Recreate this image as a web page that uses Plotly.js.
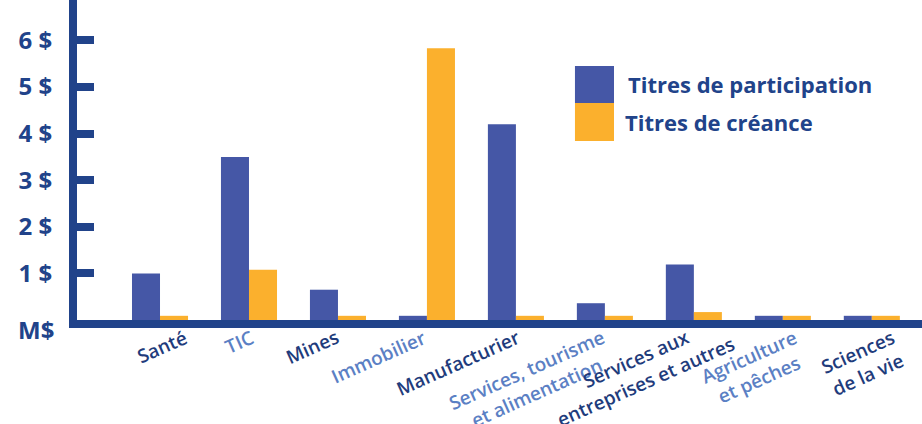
<!DOCTYPE html>
<html>
<head>
<meta charset="utf-8">
<script src="https://cdn.plot.ly/plotly-3.0.1.min.js"></script>
<style>
html,body{margin:0;padding:0;background:#fff;}
#chart{width:922px;height:424px;}
</style>
</head>
<body>
<div id="chart"></div>
<script>
// ---- data ----
const categories = ['Santé','TIC','Mines','Immobilier','Manufacturier','Services, tourisme et alimentation','Services aux entreprises et autres','Agriculture et pêches','Sciences de la vie'];
const categoryLabels = ['Santé','TIC','Mines','Immobilier','Manufacturier','Services, tourisme<br>et alimentation','Services aux<br>entreprises et autres','Agriculture<br>et pêches','Sciences<br>de la vie'];
const participation = [1.0, 3.5, 0.65, 0.09, 4.2, 0.36, 1.19, 0.09, 0.09];
const creance = [0.09, 1.08, 0.09, 5.83, 0.09, 0.09, 0.17, 0.09, 0.09];
const seriesNames = ['Titres de participation','Titres de créance'];
const yTickValues = [1,2,3,4,5,6];
const yTickLabels = ['1 $','2 $','3 $','4 $','5 $','6 $'];
const zeroLabel = 'M$';
const titleText = "titres et secteur d'activité en 2016";

// ---- style ----
const NAVY = '#21438a';
const BLUE = '#4557a6';
const ORANGE = '#fbb02d';
const DARK_LBL = '#1f3c7c';
const LIGHT_LBL = '#5b80c4';
const FONT = 'Open Sans, sans-serif';
const LBL_SIZE = 19, LBL_WEIGHT = 600, LBL_ANGLE = -24;
// small horizontal nudges (px) of the hand-placed category labels
const labelNudge = [24, 2, -2, -4, 1, -3, -8, 11, 20];

const traces = [
  {type:'bar', x:categories, y:participation, name:seriesNames[0], marker:{color:BLUE}, hoverinfo:'skip'},
  {type:'bar', x:categories, y:creance, name:seriesNames[1], marker:{color:ORANGE}, hoverinfo:'skip'}
];

// measure text to place rotated, centre-aligned multi-line labels
const ctx = document.createElement('canvas').getContext('2d');
ctx.font = LBL_WEIGHT + ' ' + LBL_SIZE + 'px "Open Sans"';
const rad = LBL_ANGLE * Math.PI / 180;
const cs = Math.cos(rad), sn = Math.sin(rad);
const annotations = categories.map((c,i)=>{
  const lines = categoryLabels[i].split('<br>');
  const l1 = ctx.measureText(lines[0]).width;
  const h = lines.length * LBL_SIZE * 1.3 + 2;
  const ex = (l1/2)*cs - (-h/2)*sn;
  const ey = (l1/2)*sn + (-h/2)*cs;
  const targetDx = -4 + labelNudge[i], targetDy = 4;
  return {
    x:c, y:0, xref:'x', yref:'y',
    text:categoryLabels[i],
    showarrow:false, textangle:LBL_ANGLE,
    xanchor:'center', yanchor:'middle', align:'center',
    xshift: targetDx - ex, yshift: -(targetDy - ey),
    font:{family:FONT, size:LBL_SIZE, weight:LBL_WEIGHT, color: i%2===0 ? DARK_LBL : LIGHT_LBL}
  };
});

annotations.push({
  x:0, y:0, xref:'paper', yref:'y', text:zeroLabel, showarrow:false,
  xanchor:'right', yanchor:'middle', xshift:-21, yshift:-9,
  font:{family:FONT, size:24, weight:700, color:NAVY}
});

// legend (manual)
const legX0 = 0.5893, legX1 = 0.6355;
annotations.push({
  x:0.650, y:0.7375, xref:'paper', yref:'paper', text:seriesNames[0], showarrow:false,
  xanchor:'left', yanchor:'middle', font:{family:FONT, size:22, weight:700, color:NAVY}
});
annotations.push({
  x:0.6465, y:0.619, xref:'paper', yref:'paper', text:seriesNames[1], showarrow:false,
  xanchor:'left', yanchor:'middle', font:{family:FONT, size:22, weight:700, color:NAVY}
});

// cut-off title at the top (only the bottom of its letters shows)
annotations.push({
  x:0.528, y:1, xref:'paper', yref:'paper', text:titleText, showarrow:false,
  xanchor:'right', yanchor:'middle', yshift:13,
  font:{family:FONT, size:30, weight:700, color:NAVY}
});

const shapes = [
  {type:'rect', xref:'paper', yref:'paper', x0:legX0, x1:legX1, y0:0.678, y1:0.794, fillcolor:BLUE, line:{width:0}},
  {type:'rect', xref:'paper', yref:'paper', x0:legX0, x1:legX1, y0:0.559, y1:0.678, fillcolor:ORANGE, line:{width:0}}
];

const layout = {
  width:922, height:424,
  margin:{l:77, r:0, t:0, b:104},
  paper_bgcolor:'#fff', plot_bgcolor:'#fff',
  showlegend:false,
  barmode:'group', bargap:0.37, bargroupgap:0,
  xaxis:{
    type:'category', range:[-0.933, 8.564],
    showline:true, linewidth:8, linecolor:NAVY,
    showticklabels:false, ticks:'', showgrid:false, zeroline:false, fixedrange:true
  },
  yaxis:{
    range:[0, 6.867],
    showline:true, linewidth:8, linecolor:NAVY,
    ticks:'inside', ticklen:17, tickwidth:8, tickcolor:NAVY,
    tickvals:yTickValues, ticktext:yTickLabels,
    ticklabelstandoff:12,
    tickfont:{family:FONT, size:24, weight:700, color:NAVY},
    showgrid:false, zeroline:false, fixedrange:true
  },
  annotations:annotations,
  shapes:shapes
};

Plotly.newPlot('chart', traces, layout, {displayModeBar:false, staticPlot:true});
</script>
</body>
</html>
